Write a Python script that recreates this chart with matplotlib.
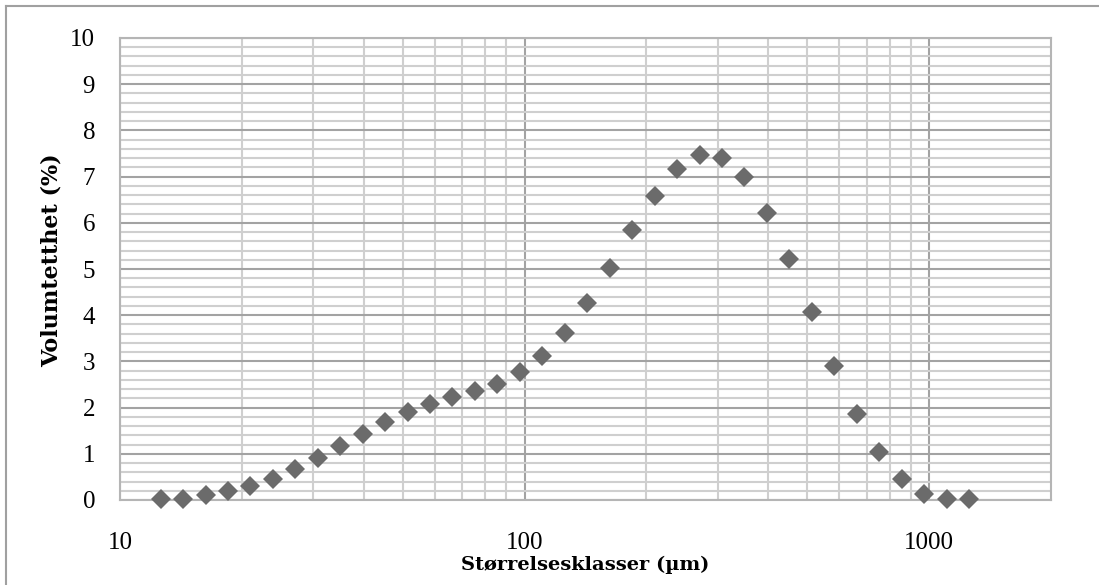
import matplotlib
matplotlib.use("Agg")
import matplotlib.pyplot as plt
from matplotlib.lines import Line2D
from matplotlib.ticker import FixedLocator, NullFormatter, MultipleLocator

# Particle size classes (µm) and volume density (%)
sizes = [12.6, 14.3, 16.3, 18.5, 21.0, 23.9, 27.1, 30.8, 35.0, 39.8, 45.2, 51.4,
         58.4, 66.3, 75.4, 85.6, 97.3, 110.6, 125.7, 142.8, 162.3, 184.4, 209.5,
         238.1, 270.6, 307.5, 349.4, 397.0, 451.2, 512.7, 582.6, 662.1, 752.4,
         855.0, 971.6, 1104.1, 1254.7]
volume = [0.02, 0.02, 0.11, 0.20, 0.31, 0.46, 0.67, 0.90, 1.17, 1.43, 1.68, 1.90,
          2.07, 2.23, 2.35, 2.51, 2.76, 3.11, 3.61, 4.26, 5.03, 5.84, 6.57,
          7.16, 7.46, 7.40, 6.99, 6.22, 5.21, 4.06, 2.90, 1.86, 1.03,
          0.46, 0.12, 0.02, 0.02]
x_ticks = [10, 100, 1000]
x_ticklabels = ["10", "100", "1000"]
y_ticks = list(range(0, 11))
x_label = "Størrelsesklasser (µm)"
y_label = "Volumtetthet (%)"

plt.rcParams['font.family'] = ['Liberation Serif', 'DejaVu Serif']

fig = plt.figure(figsize=(10.99, 5.85), dpi=100)
ax = fig.add_axes([120/1099, 1-500/585, (1051-120)/1099, (500-38)/585])

ax.set_xscale('log')
ax.set_xlim(10, 2000)
ax.set_ylim(0, 10)

minor_col = '#cfcfcf'
major_col = '#a3a3a3'
ax.xaxis.set_major_locator(FixedLocator(x_ticks))
ax.xaxis.set_minor_locator(FixedLocator([k * 10**e for e in (1, 2, 3) for k in range(2, 10) if k * 10**e < 2000]))
ax.xaxis.set_minor_formatter(NullFormatter())
ax.set_xticklabels(x_ticklabels)
ax.yaxis.set_major_locator(FixedLocator(y_ticks))
ax.yaxis.set_minor_locator(MultipleLocator(0.2))

ax.grid(which='minor', color=minor_col, linewidth=1.5, zorder=0)
ax.grid(which='major', color=major_col, linewidth=1.5, zorder=0)
ax.set_axisbelow(True)

for s in ax.spines.values():
    s.set_color('#b5b5b5')
    s.set_linewidth(1.5)

ax.tick_params(which='both', length=0)
ax.tick_params(axis='y', labelsize=18, pad=18)
ax.tick_params(axis='x', labelsize=18, pad=23)

ax.plot(sizes, volume, linestyle='none', marker='D', markersize=10.5,
        color='#6b6b6b', markeredgewidth=0, zorder=3, clip_on=False)

ax.set_xlabel(x_label, fontsize=14, fontweight='bold', family='DejaVu Serif', labelpad=1)
ax.set_ylabel(y_label, fontsize=16, fontweight='bold', family='DejaVu Serif')
ax.yaxis.set_label_coords(-0.062, 0.52)

# outer chart border
fig.add_artist(Line2D([6/1099, 6/1099], [0, 1-6/585], transform=fig.transFigure,
                      color='#a0a0a0', linewidth=1.5))
fig.add_artist(Line2D([6/1099, 1], [1-6/585, 1-6/585], transform=fig.transFigure,
                      color='#a0a0a0', linewidth=1.5))

fig.savefig('out.png', dpi=100)
